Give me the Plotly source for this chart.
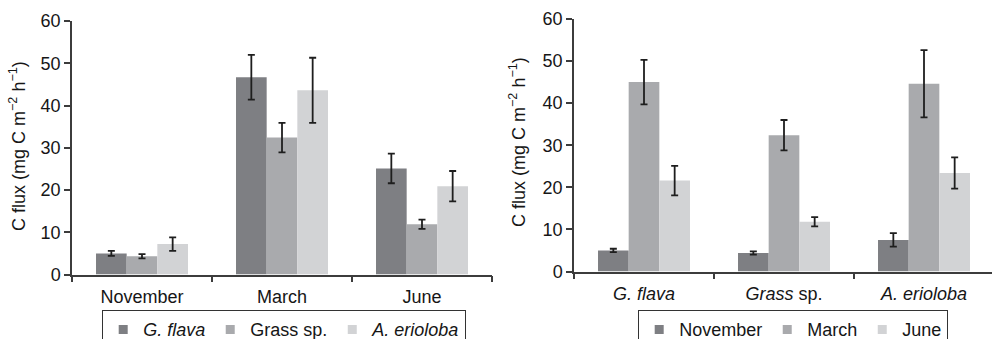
import plotly.graph_objects as go

# Categories
months = ["November", "March", "June"]
species = ["G. flava", "Grass sp.", "A. erioloba"]
species_legend = ["<i>G. flava</i>", "Grass sp.", "<i>A. erioloba</i>"]
species_ticks = ["<i>G. flava</i>", "<i>Grass</i> sp.", "<i>A. erioloba</i>"]

# Left panel: C flux per month, one series per species (mean, error)
gflava_by_month = [5.0, 46.7, 25.1]
gflava_by_month_err = [0.6, 5.3, 3.5]
grass_by_month = [4.3, 32.4, 11.9]
grass_by_month_err = [0.5, 3.5, 1.1]
aerioloba_by_month = [7.2, 43.6, 20.9]
aerioloba_by_month_err = [1.6, 7.7, 3.6]

# Right panel: C flux per species, one series per month (mean, error)
november_by_species = [5.0, 4.4, 7.5]
november_by_species_err = [0.4, 0.4, 1.6]
march_by_species = [45.0, 32.4, 44.6]
march_by_species_err = [5.3, 3.6, 8.0]
june_by_species = [21.6, 11.8, 23.4]
june_by_species_err = [3.5, 1.1, 3.7]

y_ticks = [0, 10, 20, 30, 40, 50, 60]

FONT = "Liberation Sans, Arial, Helvetica, sans-serif"
TXT = "#161616"
AXIS = "#3c3c3c"
SHADES = ["#7e7f83", "#a9aaad", "#d2d3d5"]

W, H = 992, 339

fig = go.Figure()

left_series = [
    (gflava_by_month, gflava_by_month_err),
    (grass_by_month, grass_by_month_err),
    (aerioloba_by_month, aerioloba_by_month_err),
]
right_series = [
    (november_by_species, november_by_species_err),
    (march_by_species, march_by_species_err),
    (june_by_species, june_by_species_err),
]

err_style = dict(type="data", color="#1e1e1e", thickness=1.8, width=3.5, visible=True)

for i, (vals, errs) in enumerate(left_series):
    fig.add_trace(go.Bar(
        x=months, y=vals, name=species[i], marker=dict(color=SHADES[i], line=dict(width=0)),
        error_y=dict(array=errs, **err_style), xaxis="x", yaxis="y", showlegend=False,
    ))
    # compact square key for the legend
    fig.add_trace(go.Scatter(
        x=[None], y=[None], mode="markers", name=species_legend[i],
        marker=dict(symbol="square", size=9, color=SHADES[i]),
        xaxis="x", yaxis="y", legend="legend",
    ))

for i, (vals, errs) in enumerate(right_series):
    fig.add_trace(go.Bar(
        x=species, y=vals, name=months[i], marker=dict(color=SHADES[i], line=dict(width=0)),
        error_y=dict(array=errs, **err_style), xaxis="x2", yaxis="y2", showlegend=False,
    ))
    fig.add_trace(go.Scatter(
        x=[None], y=[None], mode="markers", name=months[i],
        marker=dict(symbol="square", size=9, color=SHADES[i]),
        xaxis="x2", yaxis="y2", legend="legend2",
    ))

x_common = dict(
    type="category", showline=True, linecolor=AXIS, linewidth=1.5,
    ticks="outside", tickson="boundaries", ticklen=6, tickwidth=1.5, tickcolor=AXIS,
    showgrid=False, zeroline=False, tickfont=dict(size=18, color=TXT, family=FONT),
    ticklabelstandoff=5, fixedrange=True,
)
y_common = dict(
    range=[0, 60], tickvals=y_ticks, showline=True, linecolor=AXIS, linewidth=1.5,
    ticks="outside", ticklen=6, tickwidth=1.5, tickcolor=AXIS, showgrid=False,
    zeroline=False, tickfont=dict(size=18, color=TXT, family=FONT), fixedrange=True,
)

legend_common = dict(
    orientation="h", xanchor="left", y=1 - 310 / H, yanchor="top",
    bordercolor="#333333", borderwidth=1.2, bgcolor="white",
    font=dict(size=18, color=TXT, family=FONT), tracegroupgap=0,
)

fig.update_layout(
    width=W, height=H,
    margin=dict(l=0, r=0, t=0, b=0, autoexpand=False),
    paper_bgcolor="white", plot_bgcolor="white",
    barmode="group", bargap=0.343, bargroupgap=0,
    font=dict(family=FONT, color=TXT),
    xaxis=dict(domain=[72 / W, 492 / W], anchor="y", range=[-0.5, 2.5],
               categoryorder="array", categoryarray=months, **x_common),
    yaxis=dict(domain=[1 - 274.5 / H, 1 - 21 / H], anchor="x", **y_common),
    xaxis2=dict(domain=[574 / W, 1.0], anchor="y2", range=[-0.5, -0.5 + 418 / 140],
                categoryorder="array", categoryarray=species,
                tickvals=species, ticktext=species_ticks, **x_common),
    yaxis2=dict(domain=[1 - 271.5 / H, 1 - 19 / H], anchor="x2", **y_common),
    legend=dict(x=102 / W, **legend_common),
    legend2=dict(x=638 / W, **legend_common),
    annotations=[
        dict(text="C flux (mg C m<sup>−2</sup> h<sup>−1</sup>)", textangle=-90,
             x=17 / W, y=1 - 146 / H, xref="paper", yref="paper",
             xanchor="center", yanchor="middle", showarrow=False,
             font=dict(size=18, color=TXT, family=FONT)),
        dict(text="C flux (mg C m<sup>−2</sup> h<sup>−1</sup>)", textangle=-90,
             x=517 / W, y=1 - 142 / H, xref="paper", yref="paper",
             xanchor="center", yanchor="middle", showarrow=False,
             font=dict(size=18, color=TXT, family=FONT)),
    ],
)

fig.write_html("out.html", config=dict(displayModeBar=False))
